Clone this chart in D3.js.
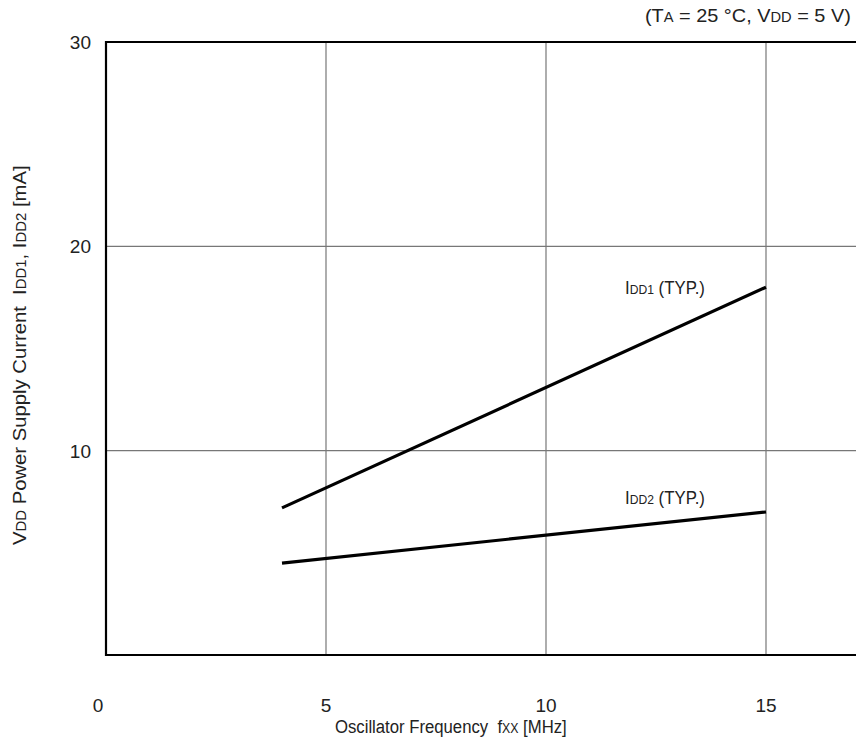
<!DOCTYPE html>
<html><head><meta charset="utf-8">
<script src="https://cdn.jsdelivr.net/npm/d3@7"></script>
<style>body{margin:0;background:#fff}svg{display:block}text{font-family:"Liberation Sans",Arial,sans-serif;fill:#222;white-space:pre}</style>
</head><body><svg id="c" width="856" height="744"></svg>
<script>
const xTicks = [0, 5, 10, 15];
const yTicks = [10, 20, 30];
const freq = [4, 15];
const idd1 = [7.2, 18.0];
const idd2 = [4.5, 7.0];

const svg = d3.select("#c");
const x = d3.scaleLinear().domain([0, 20]).range([106, 986]);
const y = d3.scaleLinear().domain([0, 30]).range([655, 42]);

// grid
svg.append("g").selectAll("line").data([5, 10, 15]).join("line")
  .attr("x1", d => x(d)).attr("x2", d => x(d)).attr("y1", y(30)).attr("y2", y(0))
  .attr("stroke", "#777").attr("stroke-width", 1.2);
svg.append("g").selectAll("line").data([10, 20]).join("line")
  .attr("x1", x(0)).attr("x2", 856).attr("y1", d => y(d)).attr("y2", d => y(d))
  .attr("stroke", "#777").attr("stroke-width", 1.2);

// frame
svg.append("path").attr("d", `M856,${y(30)}H${x(0)}V${y(0)}H856`)
  .attr("fill", "none").attr("stroke", "#000").attr("stroke-width", 2.2);

// tick labels
svg.append("g").selectAll("text").data(xTicks).join("text")
  .attr("x", d => x(d) - (d === 0 ? 8 : 0)).attr("y", 712).attr("text-anchor", "middle")
  .attr("font-size", 19).text(d => d);
svg.append("g").selectAll("text").data(yTicks).join("text")
  .attr("x", 91).attr("y", d => y(d) + 7).attr("text-anchor", "end")
  .attr("font-size", 19).text(d => d);

// lines
const line = d3.line().x(d => x(d[0])).y(d => y(d[1]));
[idd1, idd2].forEach(s => {
  svg.append("path").datum(freq.map((f, i) => [f, s[i]])).attr("d", line)
    .attr("fill", "none").attr("stroke", "#000").attr("stroke-width", 3.2);
});

// text with small-cap style subscripts, horizontally condensed to a target width
function label(tx, ty, rot, size, small, parts, width) {
  const g = svg.append("g");
  const t = g.append("text").attr("font-size", size);
  parts.forEach(([s, isSmall]) => t.append("tspan").attr("font-size", isSmall ? small : null).text(s));
  const w = t.node().getComputedTextLength();
  g.attr("transform", `translate(${tx},${ty}) rotate(${rot}) scale(${width / w},1)`);
}

label(625, 294, 0, 18, 13, [["I"], ["DD1", 1], [" (TYP.)"]], 80);
label(625, 504, 0, 18, 13, [["I"], ["DD2", 1], [" (TYP.)"]], 80);
label(645, 22, 0, 19, 14, [["(T"], ["A", 1], [" = 25 °C, V"], ["DD", 1], [" = 5 V)"]], 206);
label(335, 733, 0, 19, 14, [["Oscillator Frequency  f"], ["XX", 1], [" [MHz]"]], 232);
label(26, 545, -90, 19, 14,
  [["V"], ["DD", 1], [" Power Supply Current  I"], ["DD1", 1], [", I"], ["DD2", 1], [" [mA]"]], 380);
</script></body></html>
